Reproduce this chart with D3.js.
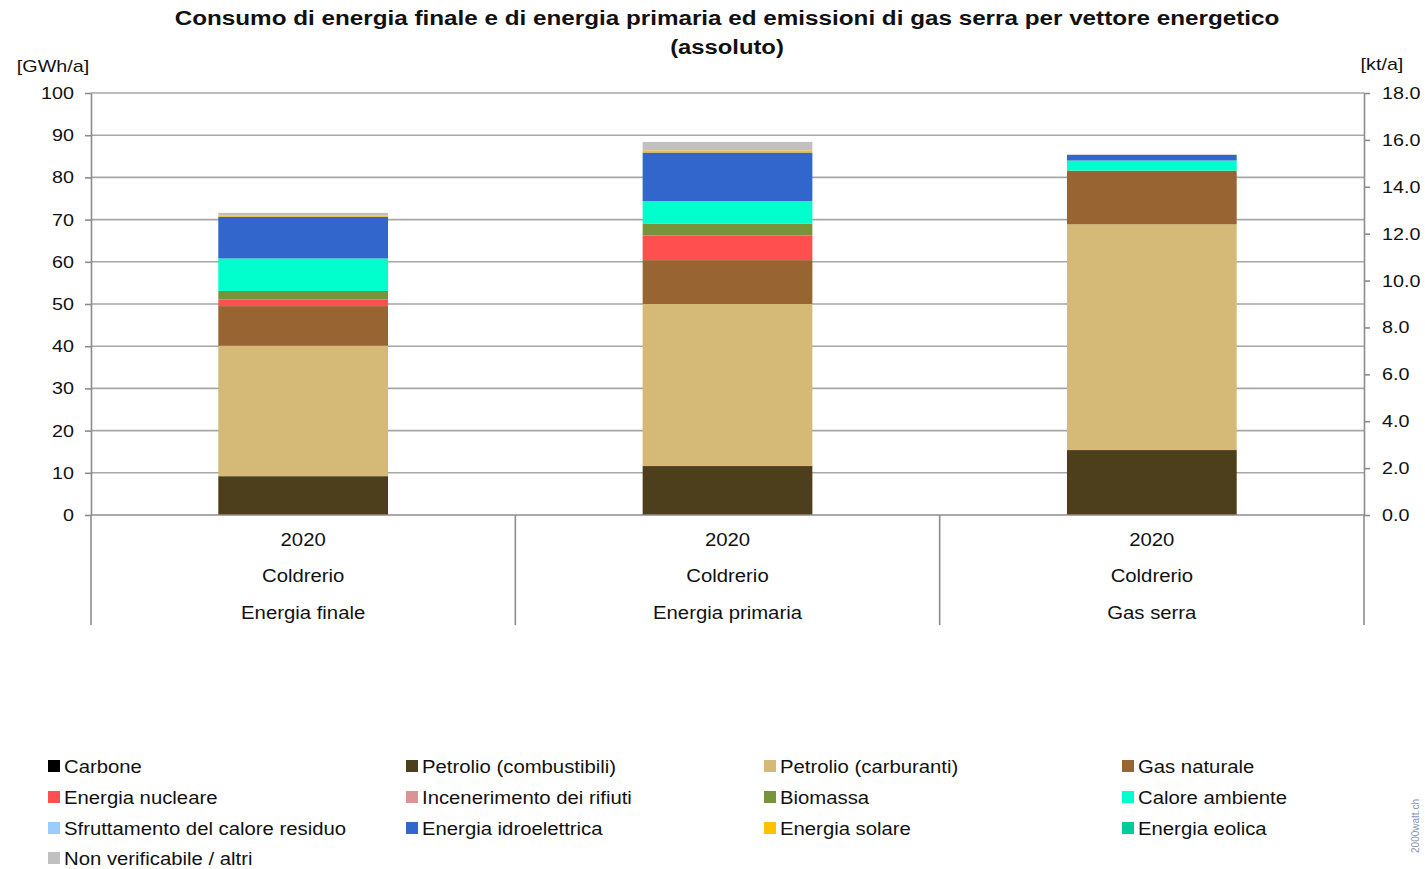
<!DOCTYPE html>
<html>
<head>
<meta charset="utf-8">
<script src="https://d3js.org/d3.v7.min.js"></script>
<style>
  body { margin: 0; background: #fff; }
  text { font-family: "Liberation Sans", Arial, sans-serif; fill: #111; }
  .grid line { stroke: #a6a6a6; stroke-width: 1.6; }
  .axis path, .axis line { stroke: #8c8c8c; stroke-width: 1.6; }
  .axis text { font-size: 17px; }
</style>
</head>
<body>
<svg id="chart" width="1425" height="869"></svg>
<script>
// categories (x axis, three label rows)
var categories = ["Energia finale", "Energia primaria", "Gas serra"];
var years = ["2020", "2020", "2020"];
var places = ["Coldrerio", "Coldrerio", "Coldrerio"];

// series names and colours, stacking order bottom -> top
var seriesNames = ["Carbone", "Petrolio (combustibili)", "Petrolio (carburanti)", "Gas naturale",
  "Energia nucleare", "Incenerimento dei rifiuti", "Biomassa", "Calore ambiente",
  "Sfruttamento del calore residuo", "Energia idroelettrica", "Energia solare", "Energia eolica",
  "Non verificabile / altri"];
var seriesColors = ["#000000", "#4d3f1c", "#d5b976", "#976432",
  "#ff4f4f", "#d99594", "#77933c", "#00ffcc",
  "#99ccff", "#3366cc", "#ffc000", "#00cc99",
  "#c0c0c0"];

// values: first two categories in GWh/a, third (Gas serra) in kt/a
var carbone      = [0, 0, 0];
var petrolioComb = [9.2, 11.6, 2.77];
var petrolioCarb = [30.9, 38.4, 9.63];
var gasNaturale  = [9.4, 10.4, 2.29];
var nucleare     = [1.6, 5.8, 0];
var rifiuti      = [0, 0, 0];
var biomassa     = [2.0, 2.8, 0];
var caloreAmb    = [7.7, 5.4, 0.43];
var caloreRes    = [0, 0, 0];
var idro         = [9.9, 11.5, 0.24];
var solare       = [0.3, 0.5, 0];
var eolica       = [0, 0, 0];
var altri        = [0.6, 2.0, 0.02];
var seriesValues = [carbone, petrolioComb, petrolioCarb, gasNaturale, nucleare, rifiuti,
  biomassa, caloreAmb, caloreRes, idro, solare, eolica, altri];
var useRight = [false, false, true];

var leftTicks = d3.range(0, 101, 10);
var rightTicks = d3.range(0, 18.1, 2);

var svg = d3.select("#chart");
var margin = {left: 91, right: 61, top: 93, bottom: 354};
var W = 1425, H = 869;
var x0 = margin.left, x1 = W - margin.right, y0 = H - margin.bottom, y1 = margin.top;

var x = d3.scaleBand().domain(categories).range([x0, x1]).paddingInner(0).paddingOuter(0);
var yL = d3.scaleLinear().domain([0, 100]).range([y0, y1]);
var yR = d3.scaleLinear().domain([0, 18]).range([y0, y1]);

// the original text is a bit wider than Liberation Sans
function stretch(sel, k) {
  sel.each(function() {
    var l = this.getComputedTextLength();
    this.setAttribute("textLength", l * k);
    this.setAttribute("lengthAdjust", "spacingAndGlyphs");
  });
}

// title
var t1 = svg.append("text").attr("x", 727).attr("y", 25).attr("text-anchor", "middle")
  .style("font-size", "19.5px").style("font-weight", "bold")
  .text("Consumo di energia finale e di energia primaria ed emissioni di gas serra per vettore energetico");
var t2 = svg.append("text").attr("x", 727).attr("y", 54).attr("text-anchor", "middle")
  .style("font-size", "19.5px").style("font-weight", "bold").text("(assoluto)");

// gridlines
svg.append("g").attr("class", "grid")
  .selectAll("line").data(leftTicks.slice(1)).enter().append("line")
  .attr("x1", x0).attr("x2", x1).attr("y1", d => yL(d)).attr("y2", d => yL(d));

// stacked bars
var barW = x.bandwidth() * 0.4;
categories.forEach(function(cat, ci) {
  var sc = useRight[ci] ? yR : yL;
  var cum = 0;
  seriesValues.forEach(function(vals, si) {
    var v = vals[ci];
    if (v > 0) {
      svg.append("rect")
        .attr("x", x(cat) + (x.bandwidth() - barW) / 2)
        .attr("width", barW)
        .attr("y", sc(cum + v))
        .attr("height", sc(cum) - sc(cum + v))
        .attr("fill", seriesColors[si]);
    }
    cum += v;
  });
});

// left axis
svg.append("g").attr("class", "axis").attr("transform", "translate(" + x0 + ",0)")
  .call(d3.axisLeft(yL).tickValues(leftTicks).tickSize(6).tickPadding(11).tickSizeOuter(0));
// right axis
svg.append("g").attr("class", "axis").attr("transform", "translate(" + x1 + ",0)")
  .call(d3.axisRight(yR).tickValues(rightTicks).tickFormat(d3.format(".1f")).tickSize(6).tickPadding(12).tickSizeOuter(0));
svg.selectAll(".axis .tick text").style("fill", "#111");

// bottom baseline + category dividers
svg.append("line").attr("x1", x0).attr("x2", x1).attr("y1", y0).attr("y2", y0)
  .attr("stroke", "#8c8c8c").attr("stroke-width", 1.6);
var bounds = categories.map(c => x(c)).concat([x1]);
svg.selectAll(".divider").data(bounds).enter().append("line")
  .attr("x1", d => d).attr("x2", d => d).attr("y1", y0).attr("y2", 625)
  .attr("stroke", "#8c8c8c").attr("stroke-width", 1.6);

// category labels
var rows = [years, places, categories];
var rowY = [546, 582, 619];
rows.forEach(function(arr, ri) {
  svg.selectAll(".catrow" + ri).data(categories).enter().append("text")
    .attr("x", d => x(d) + x.bandwidth() / 2)
    .attr("y", rowY[ri]).attr("text-anchor", "middle")
    .style("font-size", "17.5px")
    .text((d, i) => arr[i]);
});

// unit labels
svg.append("text").attr("x", 53).attr("y", 72).attr("text-anchor", "middle")
  .style("font-size", "17px").text("[GWh/a]");
svg.append("text").attr("x", 1382).attr("y", 70).attr("text-anchor", "middle")
  .style("font-size", "17px").text("[kt/a]");

// legend
var colX = [48, 406, 764, 1122];
var rowYL = [766, 797, 828, 858];
seriesNames.forEach(function(name, i) {
  var cx = colX[i % 4], cy = rowYL[Math.floor(i / 4)];
  var g = svg.append("g");
  g.append("rect").attr("x", cx).attr("y", cy - 6).attr("width", 12).attr("height", 12)
    .attr("fill", seriesColors[i]);
  g.append("text").attr("x", cx + 16).attr("y", cy + 6.5)
    .style("font-size", "17.5px").text(name);
});

stretch(svg.selectAll("text"), 1.16);
stretch(t1, 1.243 / 1.16);
t2.attr("textLength", null); stretch(t2, 1.22);

// watermark
svg.append("text").attr("transform", "translate(1419,826) rotate(-90)")
  .attr("text-anchor", "middle").style("font-size", "10px").style("fill", "#8a93b0")
  .text("2000watt.ch");
</script>
</body>
</html>
